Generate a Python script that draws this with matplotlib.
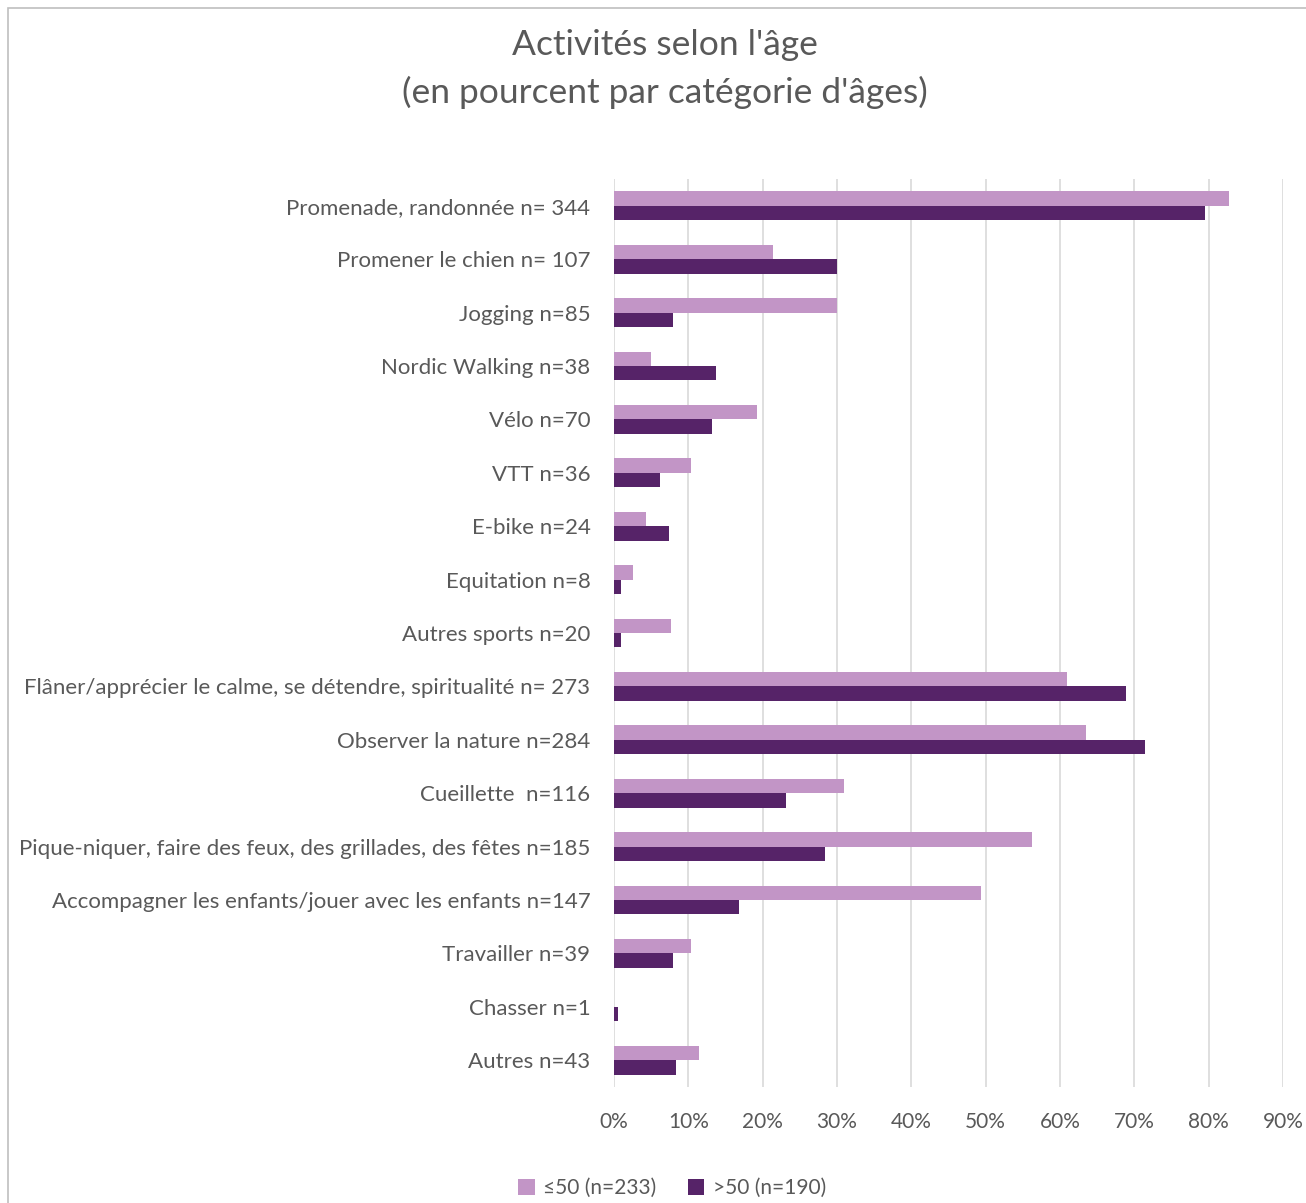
import matplotlib
matplotlib.use("Agg")
import matplotlib.pyplot as plt
import numpy as np
from matplotlib.patches import Rectangle

categories = [
    "Promenade, randonnée n= 344",
    "Promener le chien n= 107",
    "Jogging n=85",
    "Nordic Walking n=38",
    "Vélo n=70",
    "VTT n=36",
    "E-bike n=24",
    "Equitation n=8",
    "Autres sports n=20",
    "Flâner/apprécier le calme, se détendre, spiritualité n= 273",
    "Observer la nature n=284",
    "Cueillette  n=116",
    "Pique-niquer, faire des feux, des grillades, des fêtes n=185",
    "Accompagner les enfants/jouer avec les enfants n=147",
    "Travailler n=39",
    "Chasser n=1",
    "Autres n=43",
]
young = [82.8, 21.4, 30.0, 5.0, 19.3, 10.3, 4.3, 2.6, 7.7, 61.0, 63.5, 30.9, 56.2, 49.4, 10.3, 0.0, 11.5]
old = [79.5, 30.0, 7.9, 13.7, 13.2, 6.2, 7.4, 1.0, 1.0, 68.9, 71.5, 23.2, 28.4, 16.8, 7.9, 0.5, 8.3]
series_names = ["≤50 (n=233)", ">50 (n=190)"]
xticks = [0, 10, 20, 30, 40, 50, 60, 70, 80, 90]

light = "#C295C6"
dark = "#562368"
text_col = "#595959"

plt.rcParams['font.family'] = ['Lato', 'DejaVu Sans']

fig = plt.figure(figsize=(13.06, 12.03), dpi=100)
W, H = 1306, 1203
ax = fig.add_axes([614 / W, 1 - 1087 / H, (1283 - 614) / W, (1087 - 179) / H])

y = np.arange(len(categories))
h = 0.27
ax.barh(y - h / 2, young, height=h, color=light, label=series_names[0], zorder=3)
ax.barh(y + h / 2, old, height=h, color=dark, label=series_names[1], zorder=3)

ax.set_ylim(len(categories) - 0.5, -0.5)
ax.set_xlim(0, 90)
ax.set_yticks(y)
ax.set_yticklabels(categories, fontsize=16, color=text_col)
ax.set_xticks(xticks)
ax.set_xticklabels([f"{v}%" for v in xticks], fontsize=15, color=text_col)
ax.tick_params(axis='both', length=0)
ax.tick_params(axis='y', pad=17)
ax.tick_params(axis='x', pad=18)
ax.grid(axis='x', color="#D9D9D9", linewidth=1.2, zorder=0)
for s in ax.spines.values():
    s.set_visible(False)

fig.text(665 / W, 1 - 45 / H, "Activités selon l'âge", ha='center', va='center', fontsize=25.5, color=text_col)
fig.text(665 / W, 1 - 92 / H, "(en pourcent par catégorie d'âges)", ha='center', va='center', fontsize=25.5, color=text_col)

fig.legend(loc='center', bbox_to_anchor=(672 / W, 1 - 1188 / H), ncol=2, frameon=False,
           fontsize=15, labelcolor=text_col, handlelength=0.8, handleheight=0.8,
           handletextpad=0.4, columnspacing=1.5)

fig.patches.append(Rectangle((8 / W, -0.01), 1.02, 1 - 8 / H + 0.01, transform=fig.transFigure,
                             fill=False, edgecolor="#BFBFBF", linewidth=1.2))

fig.savefig("out.png", dpi=100)
